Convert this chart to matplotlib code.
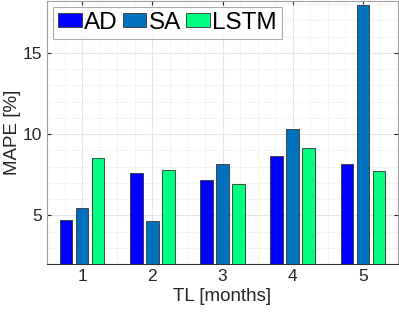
import numpy as np
import matplotlib
matplotlib.use('Agg')
import matplotlib.pyplot as plt
from matplotlib.ticker import MultipleLocator

plt.rcParams['font.family'] = ['Liberation Sans', 'DejaVu Sans']

# data
tl = [1, 2, 3, 4, 5]
series_names = ['AD', 'SA', 'LSTM']
ad = [4.69, 7.62, 7.19, 8.68, 8.15]
sa = [5.43, 4.63, 8.13, 10.32, 17.93]
lstm = [8.50, 7.82, 6.90, 9.17, 7.70]
colors = ['#0000ff', '#0072bd', '#00ff80']

fig = plt.figure(figsize=(3.99, 3.15), dpi=100)
ax = fig.add_axes([47/399, 1 - 264/315, 351/399, 263/315])

x = np.array(tl, dtype=float)
offset = 0.227
width = 0.18
for i, (vals, name) in enumerate(zip([ad, sa, lstm], series_names)):
    ax.bar(x + (i - 1) * offset, vals, width, color=colors[i],
           edgecolor='#333333', linewidth=0.6, label=name, zorder=3)

ax.set_xlim(0.5, 5.5)
ax.set_ylim(2, 18.2)
ax.set_xticks(tl)
ax.set_yticks([5, 10, 15])
ax.yaxis.set_minor_locator(MultipleLocator(1))
ax.xaxis.set_minor_locator(MultipleLocator(0.25))
ax.grid(which='major', color='#e6e6e6', linewidth=0.8, zorder=0)
ax.grid(which='minor', color='#e0e0e0', linestyle=':', linewidth=0.6, zorder=0)
ax.tick_params(which='both', direction='in', top=True, right=True,
               labelsize=12.5, colors='#262626', length=3)
ax.tick_params(which='minor', length=0)
for s in ['left', 'top', 'right']:
    ax.spines[s].set_color('#a0a0a0')
ax.spines['bottom'].set_color('#333333')

ax.set_xlabel('TL [months]', fontsize=13.5, color='#262626', labelpad=3)
ax.set_ylabel('MAPE [%]', fontsize=13.5, color='#262626', labelpad=1)

leg = ax.legend(loc='upper left', ncol=3, fontsize=17.5, frameon=True, fancybox=False,
                handlelength=0.98, handleheight=0.53, handletextpad=0.1,
                columnspacing=0.2, borderpad=0.2, borderaxespad=0.25)
leg.get_frame().set_edgecolor('#999999')
leg.get_frame().set_linewidth(0.8)

fig.savefig('out.png', dpi=100)
